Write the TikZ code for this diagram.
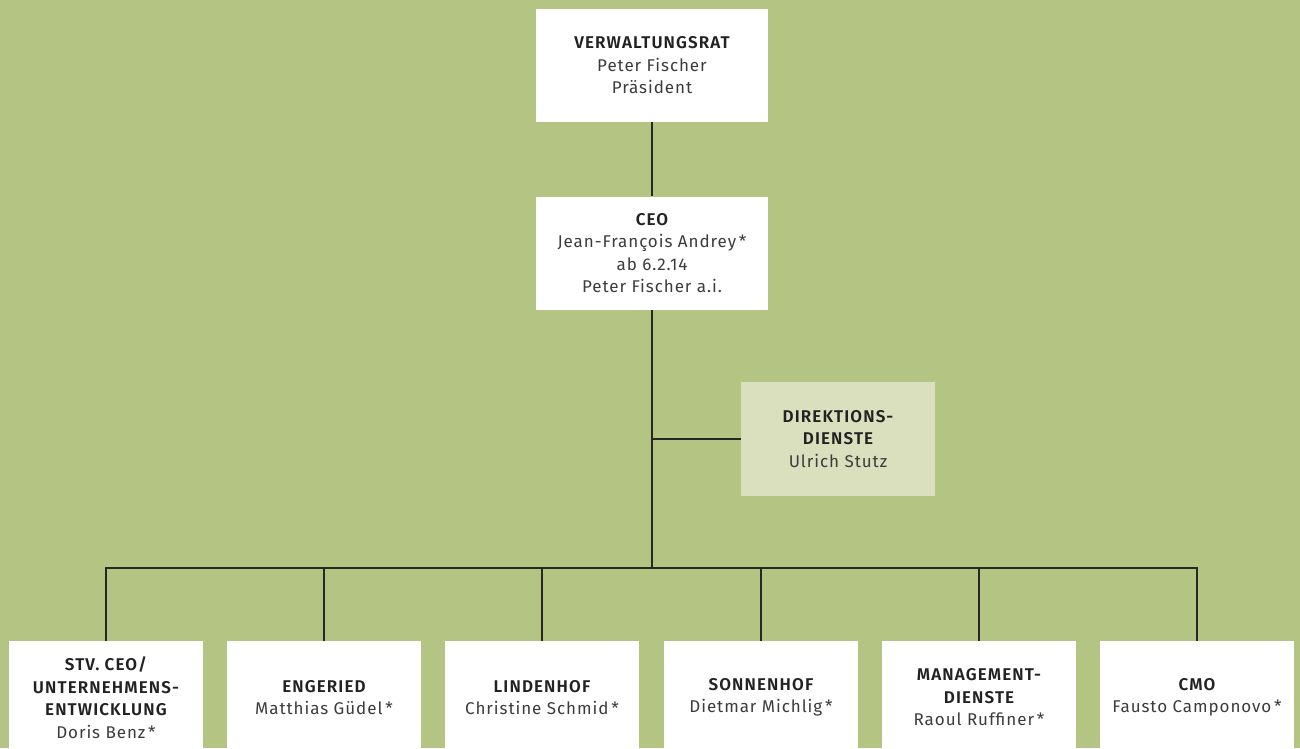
\documentclass[tikz,border=0pt]{standalone}
\usepackage{fontspec}
\setmainfont{Fira Sans}[LetterSpace=5.5]
\newfontfamily\hdfont{Fira Sans}[LetterSpace=6.5, BoldFont={Fira Sans SemiBold}]
\definecolor{bggreen}{RGB}{179,196,131}
\definecolor{lightbox}{RGB}{218,224,190}
\definecolor{txtbold}{RGB}{35,33,33}
\definecolor{txtreg}{RGB}{60,60,60}
\definecolor{linec}{RGB}{40,40,35}
\newcommand{\hd}[1]{{\hdfont\bfseries\color{txtbold}#1}}
\begin{document}
\begin{tikzpicture}[x=1pt,y=-1pt,
  orgbox/.style={fill=white, minimum width=232pt, minimum height=113pt, align=center, inner sep=0pt,
    font=\fontsize{17}{22.5}\selectfont, text=txtreg},
  unitbox/.style={orgbox, minimum width=194pt},
  staffbox/.style={unitbox, fill=lightbox, minimum height=114pt},
  conn/.style={draw=linec, line width=1.3pt}]
\useasboundingbox (0,0) rectangle (1300,748);
\fill[bggreen] (0,0) rectangle (1300,748);
\clip (0,0) rectangle (1300,748);
\node[orgbox] (vr) at (652,65.5) {\hd{VERWALTUNGSRAT}\\Peter Fischer\\Präsident};
\node[orgbox] (ceo) at (652,253) {\hd{CEO}\\Jean-François Andrey\,*\\ab 6.2.14\\Peter Fischer a.i.};
\node[staffbox] (dir) at (838,439) {\hd{DIREKTIONS-}\\\hd{DIENSTE}\\Ulrich Stutz};
\coordinate (jd) at (652,439);
\coordinate (j) at (652,568);
\node[unitbox] (b1) at (106,697.5) {\hd{STV. CEO/}\\\hd{UNTERNEHMENS-}\\\hd{ENTWICKLUNG}\\Doris Benz\,*};
\node[unitbox] (b2) at (324,697.5) {\hd{ENGERIED}\\Matthias Güdel\,*};
\node[unitbox] (b3) at (542,697.5) {\hd{LINDENHOF}\\Christine Schmid\,*};
\node[unitbox] (b4) at (761,697.5) {\hd{SONNENHOF}\\Dietmar Michlig\,*};
\node[unitbox] (b5) at (979,697.5) {\hd{MANAGEMENT-}\\\hd{DIENSTE}\\Raoul Ruffiner\,*};
\node[unitbox] (b6) at (1197,697.5) {\hd{CMO}\\Fausto Camponovo\,*};
\draw[conn] (vr.south) -- (ceo.north);
\draw[conn] (ceo.south) -- (j);
\draw[conn] (jd) -- (dir.west);
\draw[conn] (b1.north) -- (b1.north |- j) -- (b6.north |- j) -- (b6.north);
\foreach \b in {b2,b3,b4,b5} \draw[conn] (\b.north) -- (\b.north |- j);
\end{tikzpicture}
\end{document}
